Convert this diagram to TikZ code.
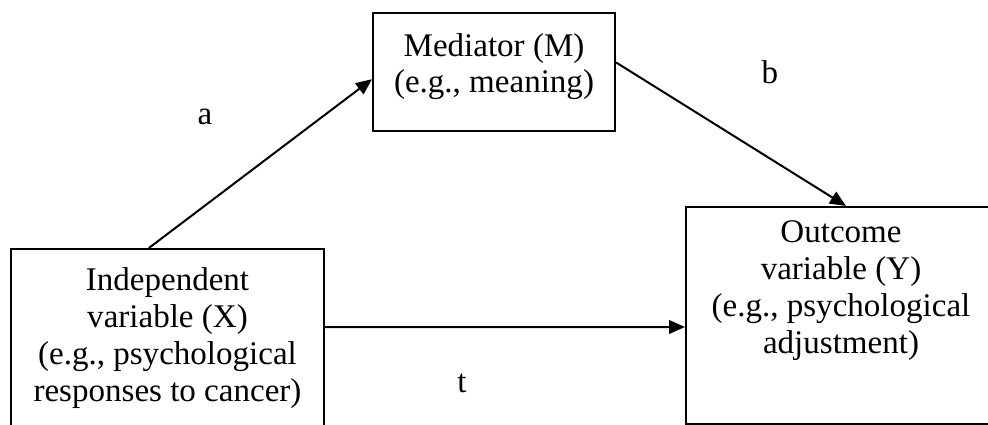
\documentclass[tikz,border=0pt]{standalone}
\usepackage{fontspec}
\setmainfont{Liberation Serif}
\usetikzlibrary{arrows.meta,calc}

\begin{document}
\begin{tikzpicture}[
    box/.style={draw, line width=0.05cm, inner sep=0cm, align=center, anchor=north west},
    link/.style={line width=0.05cm, -{Triangle[length=0.40cm,width=0.34cm]}},
  ]
                \useasboundingbox (0,0) rectangle (24.700000,-10.625000);
                \clip (0,0) rectangle (24.700000,-10.625000);
                {\fontsize{23.5}{26.3}\selectfont

                % Drawing box M
                \node [box, minimum width=6.050000cm, text height=2.000000cm, text depth=0.950000cm] (M) at (9.300000,-0.300000) {Mediator (M)\\(e.g., meaning)};

                % Drawing box X
                \node [box, minimum width=7.825000cm, text height=3.800000cm, text depth=1.000000cm] (X) at (0.250000,-6.200000) {Independent\\variable (X)\\(e.g., psychological\\responses to cancer)};

                % Drawing box Y
                \node [box, minimum width=7.750000cm, text height=3.650000cm, text depth=1.775000cm] (Y) at (17.125000,-5.150000) {Outcome\\variable (Y)\\(e.g., psychological\\adjustment)};

                % Drawing arrow X M
                \draw [link] ($(X.north west)!0.441!(X.north east)$) -- ($(M.north west)!0.560!(M.south west)$);

                % Drawing arrow M Y
                \draw [link] ($(M.north east)!0.420!(M.south east)$) -- ($(Y.north west)!0.516!(Y.north east)$);

                % Drawing arrow X Y
                \draw [link] ($(X.north east)+(0,-1.975000)$) -- ($(Y.north west)+(0,-3.025000)$);

                % Marking paths a, b and t
                \node (la) at (5.125000,-2.925000) {a};
                \node (lb) at (19.250000,-1.800000) {b};
                \node (lt) at (11.550000,-9.575000) {t};
                }
\end{tikzpicture}
\end{document}
